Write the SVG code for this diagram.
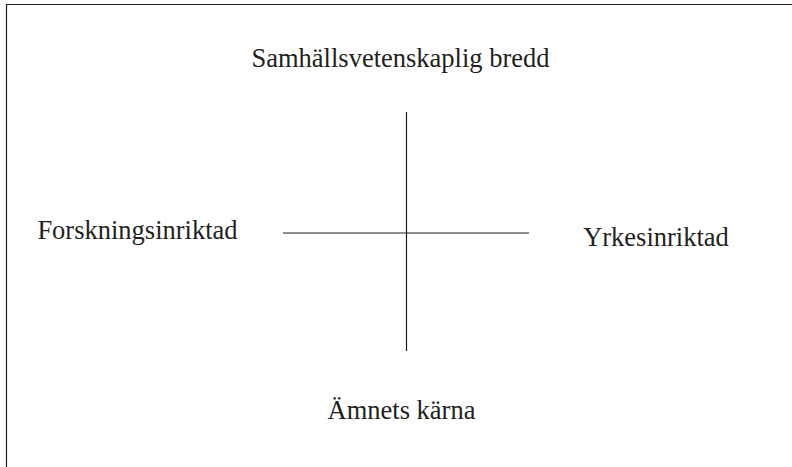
<svg xmlns="http://www.w3.org/2000/svg" width="792" height="467" viewBox="0 0 792 467">
<style>
text{font-family:"Liberation Serif","Times New Roman",serif;font-size:26.5px;fill:#231f20}
.ln{stroke:#231f20;stroke-width:1.2;fill:none}
</style>
<rect x="0" y="0" width="792" height="467" fill="#fff"/>
<path class="ln" d="M6.5,467V4.5H792"/>
<g id="connectors">
<line class="ln" x1="406.5" y1="112" x2="406.5" y2="351"/>
<line class="ln" x1="283" y1="233" x2="529" y2="233"/>
</g>
<g id="top"><text x="400.5" y="67" text-anchor="middle">Samhällsvetenskaplig bredd</text></g>
<g id="left"><text x="137.5" y="239" text-anchor="middle">Forskningsinriktad</text></g>
<g id="right"><text x="656" y="246" text-anchor="middle">Yrkesinriktad</text></g>
<g id="bottom"><text x="401.5" y="419" text-anchor="middle">Ämnets kärna</text></g>
</svg>
